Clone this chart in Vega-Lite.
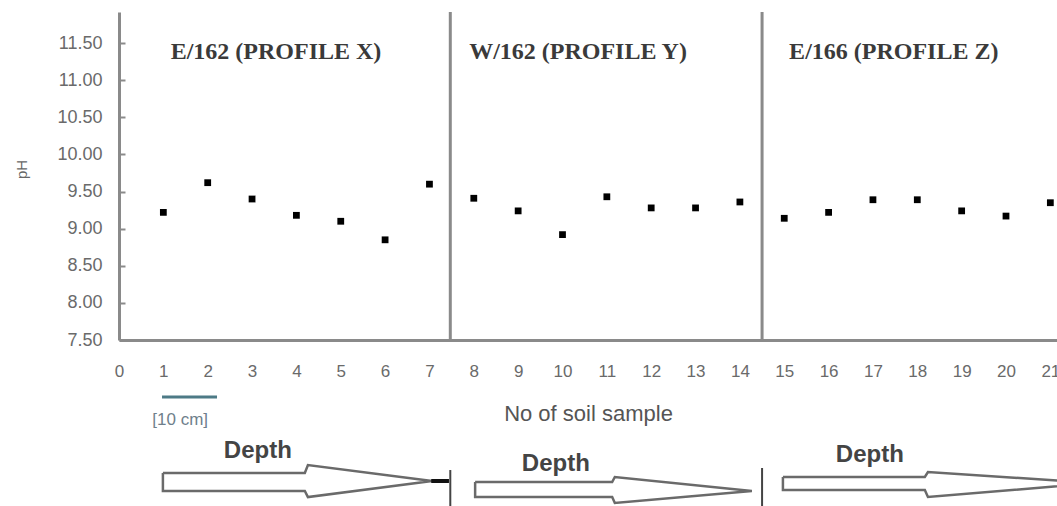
{
  "$schema": "https://vega.github.io/schema/vega-lite/v6.json",
  "width": 938,
  "height": 328,
  "autosize": {"type": "none"},
  "padding": {"left": 119, "top": 12, "right": 0, "bottom": 166},
  "background": "white",
  "config": {
    "view": {"stroke": null},
    "font": "Liberation Sans"
  },
  "datasets": {
    "ph": [
      {"sample": 1, "ph": 9.22}, {"sample": 2, "ph": 9.62}, {"sample": 3, "ph": 9.40},
      {"sample": 4, "ph": 9.18}, {"sample": 5, "ph": 9.10}, {"sample": 6, "ph": 8.85},
      {"sample": 7, "ph": 9.60}, {"sample": 8, "ph": 9.41}, {"sample": 9, "ph": 9.24},
      {"sample": 10, "ph": 8.92}, {"sample": 11, "ph": 9.43}, {"sample": 12, "ph": 9.28},
      {"sample": 13, "ph": 9.28}, {"sample": 14, "ph": 9.36}, {"sample": 15, "ph": 9.14},
      {"sample": 16, "ph": 9.22}, {"sample": 17, "ph": 9.39}, {"sample": 18, "ph": 9.39},
      {"sample": 19, "ph": 9.24}, {"sample": 20, "ph": 9.17}, {"sample": 21, "ph": 9.35}
    ],
    "separators": [{"sample": 7.47}, {"sample": 14.5}],
    "profiles": [
      {"sample": 3.54, "ph": 11.38, "label": "E/162 (PROFILE X)"},
      {"sample": 10.35, "ph": 11.38, "label": "W/162 (PROFILE Y)"},
      {"sample": 17.47, "ph": 11.38, "label": "E/166 (PROFILE Z)"}
    ],
    "arrows": [
      {"arrow": "X", "seq": 1, "sample": 0.99, "level": 5.0},
      {"arrow": "X", "seq": 2, "sample": 4.19, "level": 5.0},
      {"arrow": "X", "seq": 3, "sample": 4.26, "level": 6.21},
      {"arrow": "X", "seq": 4, "sample": 7.06, "level": 3.79},
      {"arrow": "X", "seq": 5, "sample": 4.26, "level": 1.36},
      {"arrow": "X", "seq": 6, "sample": 4.19, "level": 2.27},
      {"arrow": "X", "seq": 7, "sample": 0.99, "level": 2.27},
      {"arrow": "X", "seq": 8, "sample": 0.99, "level": 5.0},
      {"arrow": "Y", "seq": 1, "sample": 8.03, "level": 3.64},
      {"arrow": "Y", "seq": 2, "sample": 11.12, "level": 3.64},
      {"arrow": "Y", "seq": 3, "sample": 11.18, "level": 4.39},
      {"arrow": "Y", "seq": 4, "sample": 14.27, "level": 2.27},
      {"arrow": "Y", "seq": 5, "sample": 11.18, "level": 0.45},
      {"arrow": "Y", "seq": 6, "sample": 11.12, "level": 1.36},
      {"arrow": "Y", "seq": 7, "sample": 8.03, "level": 1.36},
      {"arrow": "Y", "seq": 8, "sample": 8.03, "level": 3.64},
      {"arrow": "Z", "seq": 1, "sample": 14.97, "level": 4.39},
      {"arrow": "Z", "seq": 2, "sample": 18.17, "level": 4.39},
      {"arrow": "Z", "seq": 3, "sample": 18.24, "level": 5.15},
      {"arrow": "Z", "seq": 4, "sample": 22.01, "level": 3.48},
      {"arrow": "Z", "seq": 5, "sample": 18.24, "level": 1.36},
      {"arrow": "Z", "seq": 6, "sample": 18.17, "level": 2.42},
      {"arrow": "Z", "seq": 7, "sample": 14.97, "level": 2.42},
      {"arrow": "Z", "seq": 8, "sample": 14.97, "level": 4.39}
    ],
    "dividers": [
      {"sample": 7.47, "level": 0, "top": 5.45},
      {"sample": 14.5, "level": 0, "top": 5.76}
    ],
    "depthLabels": [
      {"sample": 3.13, "level": 7.27, "label": "Depth"},
      {"sample": 9.85, "level": 5.3, "label": "Depth"},
      {"sample": 16.93, "level": 6.67, "label": "Depth"}
    ]
  },
  "layer": [
    {
      "layer": [
        {
          "data": {"name": "separators"},
          "mark": {"type": "rule", "color": "#8a8a8a", "strokeWidth": 3},
          "encoding": {
            "x": {"field": "sample", "type": "quantitative"}
          }
        },
        {
          "data": {"name": "ph"},
          "mark": {"type": "point", "shape": "square", "filled": true, "color": "#000000", "size": 46, "opacity": 1},
          "encoding": {
            "x": {
              "field": "sample",
              "type": "quantitative",
              "scale": {"domain": [0, 21.15], "nice": false, "zero": false},
              "axis": {
                "title": "No of soil sample",
                "values": [0,1,2,3,4,5,6,7,8,9,10,11,12,13,14,15,16,17,18,19,20,21],
                "grid": false,
                "ticks": false,
                "domainColor": "#8a8a8a",
                "domainWidth": 3,
                "labelFontSize": 17,
                "labelColor": "#6a6a6a",
                "labelPadding": 23,
                "labelFlush": false,
                "labelOverlap": false,
                "titleFontSize": 22,
                "titleFontWeight": "normal",
                "titleColor": "#555555",
                "titleBaseline": "middle",
                "titleY": 73
              }
            },
            "y": {
              "field": "ph",
              "type": "quantitative",
              "scale": {"domain": [7.5, 11.92], "nice": false, "zero": false},
              "axis": {
                "title": "pH",
                "values": [7.5, 8, 8.5, 9, 9.5, 10, 10.5, 11, 11.5],
                "format": ".2f",
                "grid": false,
                "ticks": true,
                "tickSize": -6,
                "tickColor": "#8a8a8a",
                "tickWidth": 2,
                "domainColor": "#8a8a8a",
                "domainWidth": 3,
                "labelFontSize": 18,
                "labelColor": "#6a6a6a",
                "labelPadding": 23,
                "titleFontSize": 15,
                "titleFontWeight": "normal",
                "titleColor": "#666666",
                "titleX": -98,
                "titleY": 157,
                "titleBaseline": "middle"
              }
            }
          }
        },
        {
          "data": {"name": "profiles"},
          "mark": {"type": "text", "font": "Liberation Serif", "fontWeight": "bold", "fontSize": 24, "color": "#3a3a3a", "baseline": "middle", "align": "center"},
          "encoding": {
            "x": {"field": "sample", "type": "quantitative"},
            "y": {"field": "ph", "type": "quantitative"},
            "text": {"field": "label"}
          }
        }
      ]
    },
    {
      "layer": [
        {
          "data": {"name": "arrows"},
          "mark": {"type": "line", "color": "#6a6a6a", "strokeWidth": 2.5, "clip": false},
          "encoding": {
            "x": {"field": "sample", "type": "quantitative"},
            "y": {
              "field": "level",
              "type": "quantitative",
              "scale": {"domain": [0, 25], "range": [494, 329], "nice": false, "zero": false},
              "axis": null
            },
            "detail": {"field": "arrow"},
            "order": {"field": "seq"}
          }
        },
        {
          "data": {"values": [{"sample": 7.04, "end": 7.44, "level": 3.79}]},
          "mark": {"type": "rule", "color": "#111111", "strokeWidth": 4},
          "encoding": {
            "x": {"field": "sample", "type": "quantitative"},
            "x2": {"field": "end"},
            "y": {"field": "level", "type": "quantitative"}
          }
        },
        {
          "data": {"name": "dividers"},
          "mark": {"type": "rule", "color": "#444444", "strokeWidth": 2},
          "encoding": {
            "x": {"field": "sample", "type": "quantitative"},
            "y": {"field": "level", "type": "quantitative"},
            "y2": {"field": "top"}
          }
        },
        {
          "data": {"values": [{"sample": 0.97, "end": 2.21, "level": 16.5}]},
          "mark": {"type": "rule", "color": "#4d7a86", "strokeWidth": 3},
          "encoding": {
            "x": {"field": "sample", "type": "quantitative"},
            "x2": {"field": "end"},
            "y": {"field": "level", "type": "quantitative"}
          }
        },
        {
          "data": {"values": [{"sample": 1.38, "level": 13.03, "label": "[10 cm]"}]},
          "mark": {"type": "text", "fontSize": 17, "color": "#6f7f8c", "baseline": "middle", "align": "center"},
          "encoding": {
            "x": {"field": "sample", "type": "quantitative"},
            "y": {"field": "level", "type": "quantitative"},
            "text": {"field": "label"}
          }
        },
        {
          "data": {"name": "depthLabels"},
          "mark": {"type": "text", "fontSize": 24, "fontWeight": "bold", "color": "#444444", "baseline": "alphabetic", "align": "center"},
          "encoding": {
            "x": {"field": "sample", "type": "quantitative"},
            "y": {"field": "level", "type": "quantitative"},
            "text": {"field": "label"}
          }
        }
      ]
    }
  ],
  "resolve": {"scale": {"y": "independent"}}
}
